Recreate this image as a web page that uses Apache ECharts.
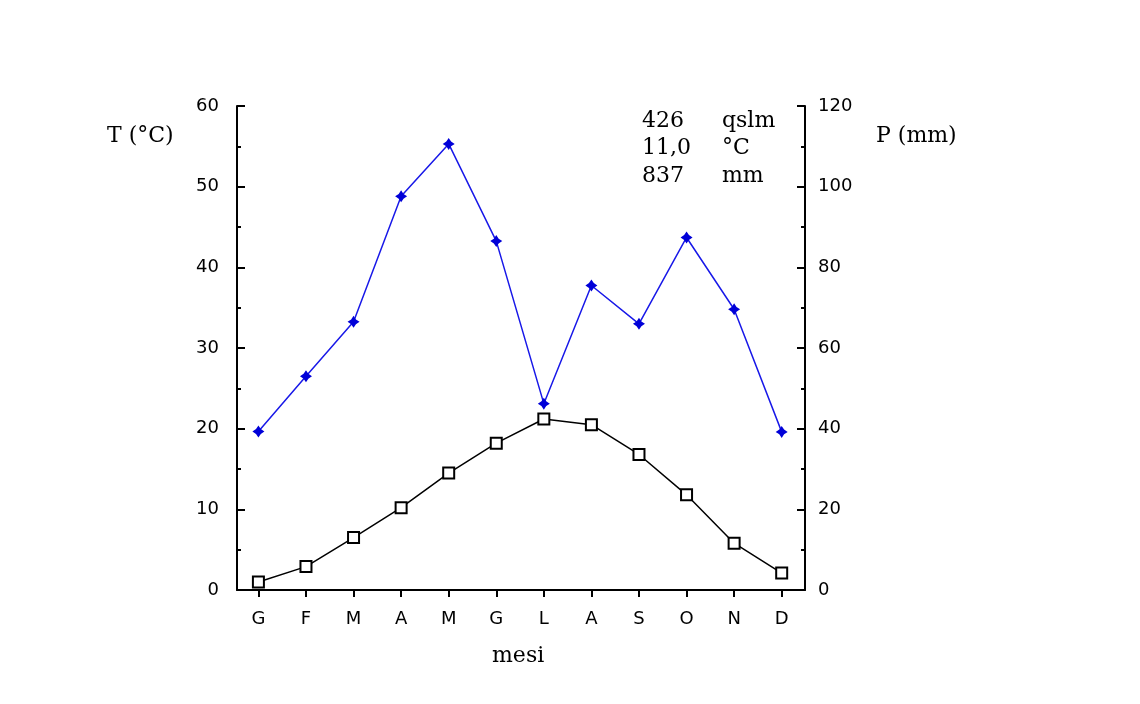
<!DOCTYPE html>
<html>
<head>
<meta charset="utf-8">
<script src="https://cdn.jsdelivr.net/npm/echarts@6/dist/echarts.min.js"></script>
<style>html,body{margin:0;padding:0;background:#fff;}#c{width:1140px;height:704px;}</style>
</head>
<body>
<div id="c"></div>
<script>
var months = ['G','F','M','A','M','G','L','A','S','O','N','D'];
var temperature = [1.0, 2.9, 6.5, 10.2, 14.5, 18.2, 21.2, 20.5, 16.8, 11.8, 5.8, 2.1];
var precipitation = [39.3, 53.0, 66.5, 97.6, 110.6, 86.5, 46.2, 75.5, 66.0, 87.4, 69.6, 39.2];
var tempTicks = [0, 10, 20, 30, 40, 50, 60];
var precTicks = [0, 20, 40, 60, 80, 100, 120];
var infoLines = [['426', 'qslm'], ['11,0', '°C'], ['837', 'mm']];

var chart = echarts.init(document.getElementById('c'));
var idx = months.map(function (m, i) { return i; });
var serif = 'DejaVu Serif';
var sans = 'DejaVu Sans';
var sf = '22px ' + serif;

var graphics = [
  {type:'text', left:107, top:125, style:{text:'T (°C)', font:sf, fill:'#000'}},
  {type:'text', left:876, top:125, style:{text:'P (mm)', font:sf, fill:'#000'}},
  {type:'text', left:492, top:645, style:{text:'mesi', font:sf, fill:'#000'}}
];
infoLines.forEach(function (row, i) {
  graphics.push({type:'text', left:642, top:110 + i * 27.5, style:{text:row[0], font:sf, fill:'#000'}});
  graphics.push({type:'text', left:722, top:110 + i * 27.5, style:{text:row[1], font:sf, fill:'#000'}});
});

var yCommon = {
  type:'value',
  axisLine:{show:true, onZero:false, lineStyle:{color:'#000', width:2}},
  axisTick:{show:true, inside:true, length:8, lineStyle:{color:'#000', width:2}},
  minorTick:{show:true, splitNumber:2, length:4, lineStyle:{color:'#000', width:2}},
  splitLine:{show:false},
  axisLabel:{color:'#000', fontFamily:sans, fontSize:18}
};

chart.setOption({
  animation:false,
  backgroundColor:'#fff',
  grid:{left:237, right:335, top:106, bottom:114, containLabel:false},
  xAxis:{
    type:'value', min:-0.45, max:11.49,
    axisLine:{show:true, onZero:false, lineStyle:{color:'#000', width:2}},
    axisTick:{show:true, customValues:idx, length:7, lineStyle:{color:'#000', width:2}},
    axisLabel:{show:true, customValues:idx, margin:20, color:'#000', fontFamily:sans, fontSize:18,
      formatter:function (v) { return months[Math.round(v)]; }},
    splitLine:{show:false}
  },
  yAxis:[
    Object.assign({}, yCommon, {position:'left', min:tempTicks[0], max:tempTicks[tempTicks.length-1], interval:10,
      axisLabel:Object.assign({}, yCommon.axisLabel, {margin:18})}),
    Object.assign({}, yCommon, {position:'right', min:precTicks[0], max:precTicks[precTicks.length-1], interval:20,
      axisLabel:Object.assign({}, yCommon.axisLabel, {margin:13})})
  ],
  series:[
    {
      type:'line', yAxisIndex:1,
      data:precipitation.map(function (v, i) { return [i, v]; }),
      symbol:'path://M5,0 L7,3 L10,5 L7,7 L5,10 L3,7 L0,5 L3,3 Z', symbolSize:12,
      lineStyle:{color:'#1818e8', width:1.5},
      itemStyle:{color:'#0000d8'}
    },
    {
      type:'line', yAxisIndex:0,
      data:temperature.map(function (v, i) { return [i, v]; }),
      symbol:'rect', symbolSize:11,
      lineStyle:{color:'#000', width:1.5},
      itemStyle:{color:'#fff', borderColor:'#000', borderWidth:2}
    }
  ],
  graphic:graphics
});
</script>
</body>
</html>
